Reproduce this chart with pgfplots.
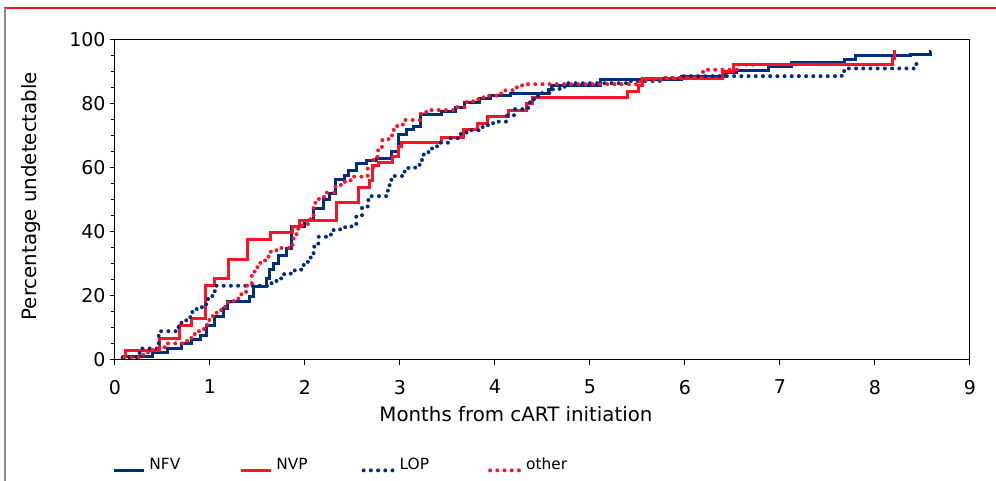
\documentclass[border=0pt]{standalone}
\usepackage{pgfplots}
\pgfplotsset{compat=1.18}
\usepackage{fontspec}
\setmainfont{DejaVu Sans}
\definecolor{kmblue}{RGB}{0,45,125}
\definecolor{kmred}{RGB}{250,20,40}
\definecolor{framegray}{RGB}{140,140,140}
\begin{document}
\begin{tikzpicture}
\useasboundingbox (0,0) rectangle (498pt,240.5pt);
\draw[kmred,line width=0.8pt] (2pt,236.5pt) -- (498pt,236.5pt);
\draw[framegray,line width=0.8pt] (2.5pt,236.5pt) -- (2.5pt,0pt);
\begin{axis}[
  at={(57.5pt,60.5pt)}, anchor=south west,
  scale only axis, width=427.5pt, height=160pt,
  xmin=0, xmax=9, ymin=0, ymax=100,
  xtick={0,1,...,9}, ytick={0,20,...,100},
  minor y tick num=3,
  tick align=outside, xtick pos=bottom, ytick pos=left,
  major tick length=2.5pt, minor tick length=2pt,
  every tick/.style={black,line width=0.5pt},
  axis line style={line width=0.5pt},
  /pgf/number format/assume math mode=true,
  tick label style={font=\fontsize{9.5}{11}\selectfont},
  xticklabel style={yshift=-4pt},
  yticklabel style={xshift=1.3pt},
  label style={font=\fontsize{9.9}{11}\selectfont},
  xlabel={Months from cART initiation},
  ylabel={Percentage undetectable},
  xlabel style={at={(axis description cs:0.469,-0.169)}, anchor=center},
  ylabel style={at={(axis description cs:-0.098,0.512)}, anchor=center},
  legend columns=4,
  legend style={at={(axis description cs:-0.0035,-0.328)}, anchor=west, draw=none, fill=none,
    inner sep=0pt, font=\fontsize{7.7}{9}\selectfont,
    /tikz/column 2/.style={column sep=27.5pt},
    /tikz/column 4/.style={column sep=25pt},
    /tikz/column 6/.style={column sep=27.5pt}},
  legend image code/.code={\draw[#1] (0pt,-2.7pt) -- (15pt,-2.7pt);},
  solidline/.style={const plot mark left, line width=1.5pt, line join=miter},
  dotline/.style={const plot mark left, line width=2pt, line cap=round, dash pattern=on 0pt off 3.6pt},
]
% NFV
\addplot[solidline, kmblue, forget plot] coordinates {
(0.07,1.2) (0.39,2.3) (0.55,3.6) (0.70,5.2) (0.81,6.5) (0.90,7.8) (0.96,10.9)
(1.05,13.5) (1.14,16.1) (1.18,18.2) (1.42,19.8) (1.46,22.9) (1.60,25.5) (1.63,28.3)
(1.67,30.2) (1.72,32.8) (1.81,34.9) (1.86,41.7) (2.00,43.7) (2.09,47.4) (2.19,50.0)
(2.26,52.1) (2.32,56.3) (2.42,57.8) (2.46,59.2) (2.54,61.3) (2.65,62.3) (2.75,63.0)
(2.91,65.3) (2.98,70.5) (3.07,71.9) (3.14,73.0) (3.22,76.6) (3.44,77.7) (3.58,78.8)
(3.68,80.4) (3.84,81.8) (3.95,82.8) (4.16,83.3) (4.56,84.6) (4.60,85.7) (5.11,87.7)
(5.96,88.5) (6.42,89.8) (6.54,90.6) (6.88,91.7) (7.12,92.9) (7.68,94.0) (7.79,95.0)
(8.37,95.6) (8.58,96.4) (8.59,96.4)};
% NVP
\addplot[solidline, kmred, forget plot] coordinates {
(0.07,1.2) (0.11,3.0) (0.47,6.8) (0.68,10.8) (0.81,13.0) (0.95,23.3) (1.05,25.4)
(1.20,31.4) (1.39,37.6) (1.64,39.7) (1.87,41.6) (1.94,43.5) (2.33,49.3) (2.56,54.0)
(2.68,56.1) (2.71,60.8) (2.77,61.6) (2.92,63.6) (2.98,66.6) (3.02,68.0) (3.44,69.6)
(3.67,71.9) (3.82,73.9) (3.92,76.2) (4.14,78.1) (4.33,80.2) (4.39,82.1) (5.39,84.0)
(5.51,85.9) (5.55,88.0) (6.40,90.3) (6.51,92.2) (8.18,94.3) (8.21,96.4) (8.22,96.4)};
% LOP
\addplot[dotline, kmblue, forget plot] coordinates {
(0.08,0.8) (0.26,3.6) (0.46,9.0) (0.65,10.3) (0.70,11.8) (0.75,13.4) (0.81,15.0)
(0.86,16.5) (0.96,19.0) (0.98,20.0) (1.03,21.5) (1.06,23.2) (1.62,24.0) (1.70,25.5)
(1.78,27.0) (1.88,28.0) (1.96,29.7) (2.03,31.3) (2.06,33.3) (2.09,35.4) (2.14,38.5)
(2.23,39.2) (2.29,40.6) (2.37,41.5) (2.49,42.4) (2.54,44.8) (2.60,47.5) (2.66,50.0)
(2.70,51.2) (2.86,52.9) (2.89,56.3) (2.92,57.5) (3.04,58.9) (3.08,60.0) (3.16,61.0)
(3.22,62.5) (3.25,64.6) (3.30,66.1) (3.39,67.9) (3.51,69.3) (3.64,70.9) (3.70,71.8)
(3.87,73.4) (3.98,74.5) (4.12,76.4) (4.20,78.4) (4.35,80.5) (4.41,82.5) (4.46,83.4)
(4.58,84.6) (4.68,85.4) (4.77,86.5) (5.39,87.2) (5.75,88.0) (5.97,88.7) (7.65,90.3)
(7.70,91.1) (8.43,92.5) (8.45,92.5)};
% other
\addplot[dotline, kmred, forget plot] coordinates {
(0.10,0.8) (0.30,2.4) (0.35,3.1) (0.46,4.0) (0.53,5.2) (0.76,6.9) (0.82,8.1)
(0.88,9.0) (0.93,9.7) (0.97,12.5) (1.03,14.0) (1.07,15.6) (1.13,16.6) (1.19,18.0)
(1.25,19.2) (1.33,21.3) (1.39,24.0) (1.44,27.0) (1.47,29.0) (1.53,30.5) (1.58,32.3)
(1.64,34.0) (1.70,35.0) (1.86,36.0) (1.88,38.0) (1.91,41.0) (1.97,42.5) (2.03,44.0)
(2.09,47.5) (2.11,50.3) (2.20,52.3) (2.32,54.7) (2.42,55.7) (2.48,57.3) (2.66,59.9)
(2.72,63.5) (2.77,66.5) (2.81,68.7) (2.88,70.2) (2.93,71.9) (2.97,73.2) (3.03,75.0)
(3.22,77.5) (3.30,78.1) (3.60,79.0) (3.70,80.6) (3.77,81.5) (3.88,82.6) (4.02,83.3)
(4.11,84.3) (4.22,85.2) (4.28,85.8) (4.33,86.2) (5.53,87.5) (5.75,88.2) (6.19,90.7)
(6.55,92.3) (6.78,92.3)};
\addlegendimage{kmblue, line width=1.5pt}
\addlegendentry{NFV}
\addlegendimage{kmred, line width=1.5pt}
\addlegendentry{NVP}
\addlegendimage{kmblue, line width=2pt, line cap=round, dash pattern=on 0pt off 3.6pt}
\addlegendentry{LOP}
\addlegendimage{kmred, line width=2pt, line cap=round, dash pattern=on 0pt off 3.6pt}
\addlegendentry{other}
\end{axis}
\end{tikzpicture}
\end{document}
